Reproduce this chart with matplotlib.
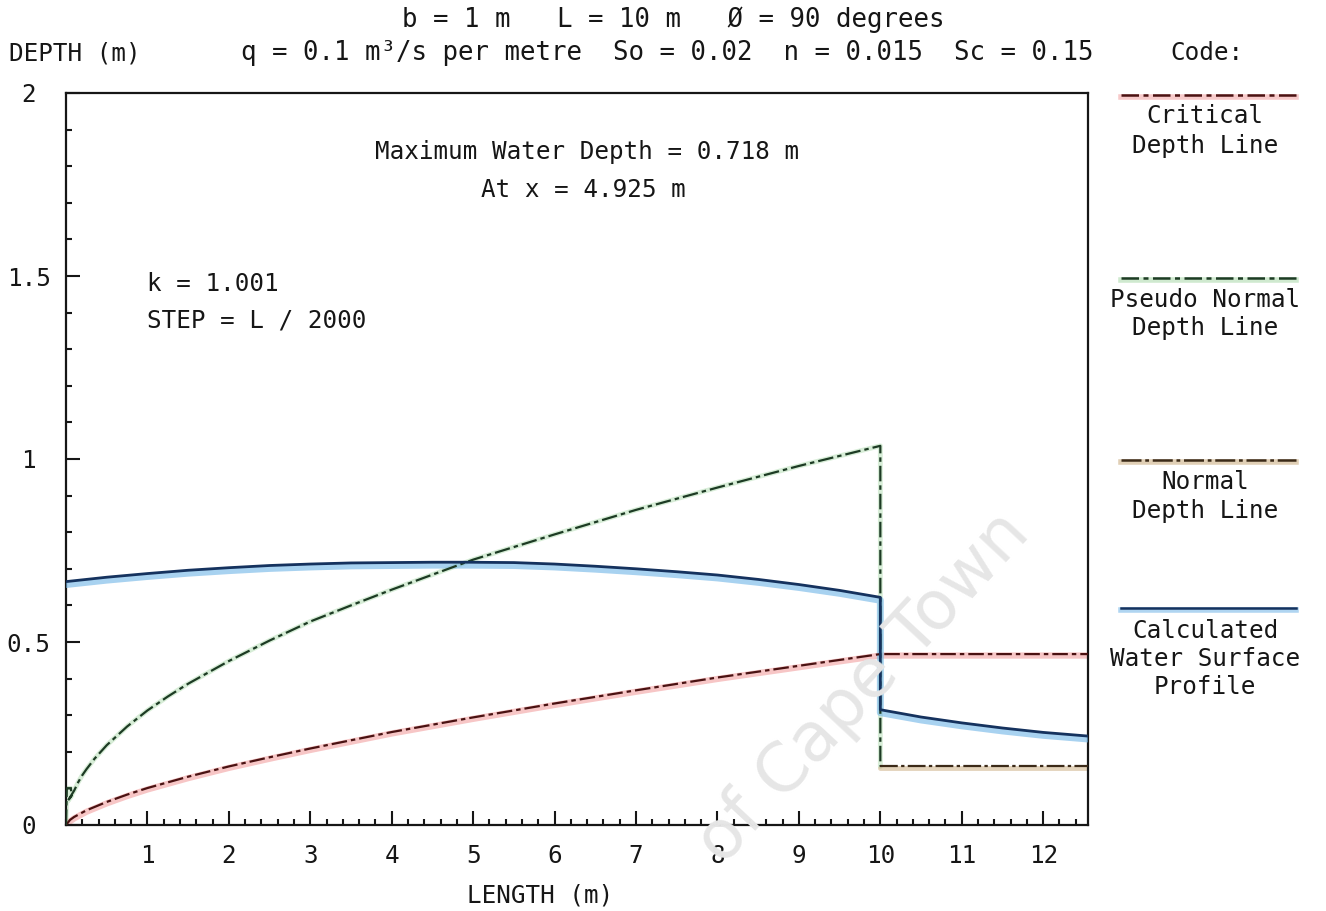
import matplotlib
matplotlib.use("Agg")
import matplotlib.pyplot as plt
from matplotlib.lines import Line2D
from matplotlib.ticker import MultipleLocator

# ---- data -------------------------------------------------------------
crit_x = [0, 0.05, 0.1, 0.25, 0.5, 0.75, 1, 1.5, 2, 2.5, 3, 4, 5, 6, 7, 8, 9, 10,
          11, 12, 12.55]
crit_y = [0, 0.014, 0.022, 0.040, 0.063, 0.083, 0.101, 0.132, 0.160, 0.185,
          0.209, 0.254, 0.294, 0.332, 0.368, 0.403, 0.435, 0.467, 0.467, 0.467,
          0.467]

pseudo_x = [0, 0.01, 0.06, 0.07, 0.02, 0.1, 0.15, 0.2, 0.25, 0.35, 0.5, 0.75,
            1, 1.25, 1.5, 2, 2.5, 3, 3.5, 4, 4.5, 5, 6, 7, 8, 9, 10, 10]
pseudo_y = [0, 0.100, 0.100, 0.080, 0.065, 0.094, 0.117, 0.136, 0.152, 0.181,
            0.218, 0.269, 0.313, 0.351, 0.386, 0.448, 0.504, 0.556, 0.600,
            0.643, 0.684, 0.725, 0.794, 0.861, 0.922, 0.981, 1.036, 0.160]

normal_x = [10, 12.55]
normal_y = [0.160, 0.160]

water_x = [0, 0.5, 1, 1.5, 2, 2.5, 3, 3.5, 4, 4.5, 4.925, 5.5, 6, 6.5, 7, 7.5,
           8, 8.5, 9, 9.5, 10, 10, 10.5, 11, 11.5, 12, 12.55]
water_y = [0.665, 0.677, 0.687, 0.696, 0.703, 0.709, 0.713, 0.716, 0.717,
           0.718, 0.718, 0.717, 0.713, 0.707, 0.700, 0.692, 0.683, 0.671,
           0.657, 0.641, 0.622, 0.315, 0.295, 0.279, 0.265, 0.253, 0.243]

x_ticks = [1, 2, 3, 4, 5, 6, 7, 8, 9, 10, 11, 12]
y_ticks = [0, 0.5, 1, 1.5, 2]
y_tick_labels = ["0", "0.5", "1", "1.5", "2"]

max_depth = 0.718
max_depth_x = 4.925

# ---- style ------------------------------------------------------------
FONT = "DejaVu Sans Mono"
FS = 17.5
INK = "#161616"

RED, RED_HALO = "#4a1212", "#f2a0a0"
GREEN, GREEN_HALO = "#1d3b24", "#a8d8a8"
BROWN, BROWN_HALO = "#3b2a18", "#c8a878"
BLUE, BLUE_HALO = "#15325e", "#6fb4e6"

W, H = 1326, 911
fig = plt.figure(figsize=(W / 100, H / 100), dpi=100)
fig.patch.set_facecolor("white")


def fx(px):
    return px / W


def fy(py):
    return 1 - py / H


ax = fig.add_axes([fx(66), fy(825), fx(1088) - fx(66), fy(93) - fy(825)])
ax.set_xlim(0, 12.55)
ax.set_ylim(0, 2)

for s in ax.spines.values():
    s.set_color(INK)
    s.set_linewidth(1.6)

ax.xaxis.set_major_locator(MultipleLocator(1))
ax.xaxis.set_minor_locator(MultipleLocator(0.2))
ax.yaxis.set_major_locator(MultipleLocator(0.5))
ax.yaxis.set_minor_locator(MultipleLocator(0.1))
ax.set_xticks(x_ticks)
ax.set_yticks(y_ticks)
ax.set_yticklabels(y_tick_labels, ha="center")
ax.tick_params(axis="both", which="major", direction="in", length=10, width=1.5,
               color=INK, labelsize=FS, labelcolor=INK)
ax.tick_params(axis="both", which="minor", direction="in", length=4, width=1.5,
               color=INK)
ax.tick_params(axis="x", which="major", pad=14)
ax.tick_params(axis="y", which="major", pad=27)
for lab in ax.get_xticklabels() + ax.get_yticklabels():
    lab.set_family(FONT)

# ---- curves -----------------------------------------------------------
halo = dict(solid_capstyle="round", solid_joinstyle="round")

ax.plot(crit_x, [v - 0.004 for v in crit_y], color=RED_HALO, lw=4.5, alpha=0.6,
        zorder=2, **halo)
ax.plot(crit_x, crit_y, color=RED, lw=1.6, dashes=(7, 1.8, 2, 1.8), zorder=4)

ax.plot(pseudo_x, pseudo_y, color=GREEN_HALO, lw=3.5, alpha=0.45, zorder=2, **halo)
ax.plot(pseudo_x, pseudo_y, color=GREEN, lw=1.6, dashes=(7, 1.8, 2, 1.8), zorder=4)

ax.plot(normal_x, [v - 0.004 for v in normal_y], color=BROWN_HALO, lw=3.5,
        alpha=0.5, zorder=2, **halo)
ax.plot(normal_x, normal_y, color=BROWN, lw=1.6, dashes=(8, 1.5, 1.5, 1.5), zorder=4)

ax.plot(water_x, [v - 0.008 for v in water_y], color=BLUE_HALO, lw=5, alpha=0.6,
        zorder=3, **halo)
ax.plot(water_x, water_y, color=BLUE, lw=2.0, zorder=5, **halo)

# ---- annotations inside the plot ---------------------------------------
ax.text(0.51, 1 - (152 - 93) / 732, f"Maximum Water Depth = {max_depth:.3f} m",
        transform=ax.transAxes, ha="center", va="center", family=FONT, fontsize=FS,
        color=INK)
ax.text(0.506, 1 - (190 - 93) / 732, f"At x = {max_depth_x:.3f} m",
        transform=ax.transAxes, ha="center", va="center", family=FONT, fontsize=FS,
        color=INK)
ax.text(1.0, 1.479, "k = 1.001", ha="left", va="center", family=FONT,
        fontsize=FS, color=INK)
ax.text(1.0, 1.378, "STEP = L / 2000", ha="left", va="center", family=FONT,
        fontsize=FS, color=INK)

# ---- header and axis titles -------------------------------------------
fig.text(fx(673), fy(20), "b = 1 m   L = 10 m   Ø = 90 degrees", ha="center",
         va="center", family=FONT, fontsize=18.5, color=INK)
fig.text(fx(667), fy(53), "q = 0.1 m³/s per metre  So = 0.02  n = 0.015  Sc = 0.15",
         ha="center", va="center", family=FONT, fontsize=18.5, color=INK)
fig.text(fx(75), fy(53), "DEPTH (m)", ha="center", va="center", family=FONT,
         fontsize=FS, color=INK)
fig.text(fx(1207), fy(53), "Code:", ha="center", va="center", family=FONT,
         fontsize=FS, color=INK)
fig.text(fx(540), fy(896), "LENGTH (m)", ha="center", va="center", family=FONT,
         fontsize=FS, color=INK)

# ---- line key on the right --------------------------------------------
key = [
    (95, RED, RED_HALO, (7, 1.8, 2, 1.8), ["Critical", "Depth Line"], [116, 146]),
    (278, GREEN, GREEN_HALO, (7, 1.8, 2, 1.8), ["Pseudo Normal", "Depth Line"], [300, 328]),
    (460, BROWN, BROWN_HALO, (8, 1.5, 1.5, 1.5), ["Normal", "Depth Line"], [482, 511]),
    (608, BLUE, BLUE_HALO, None, ["Calculated", "Water Surface", "Profile"], [631, 659, 687]),
]
for ypx, col, hcol, dsh, lines, ys in key:
    fig.add_artist(Line2D([fx(1121), fx(1296)], [fy(ypx + 2), fy(ypx + 2)],
                          color=hcol, lw=4, alpha=0.55))
    ln = Line2D([fx(1121), fx(1296)], [fy(ypx), fy(ypx)], color=col, lw=1.8)
    if dsh is not None:
        ln.set_dashes(dsh)
    fig.add_artist(ln)
    for t, yy in zip(lines, ys):
        fig.text(fx(1205), fy(yy), t, ha="center", va="center", family=FONT,
                 fontsize=FS, color=INK)

# ---- faint archive watermark ------------------------------------------
fig.text(fx(1018), fy(522), "of Cape Town", ha="right", va="center",
         rotation=47, rotation_mode="anchor", family="DejaVu Sans", fontsize=49,
         color="#e6e6e6", zorder=0)

fig.savefig("out.png", dpi=100, facecolor="white")
